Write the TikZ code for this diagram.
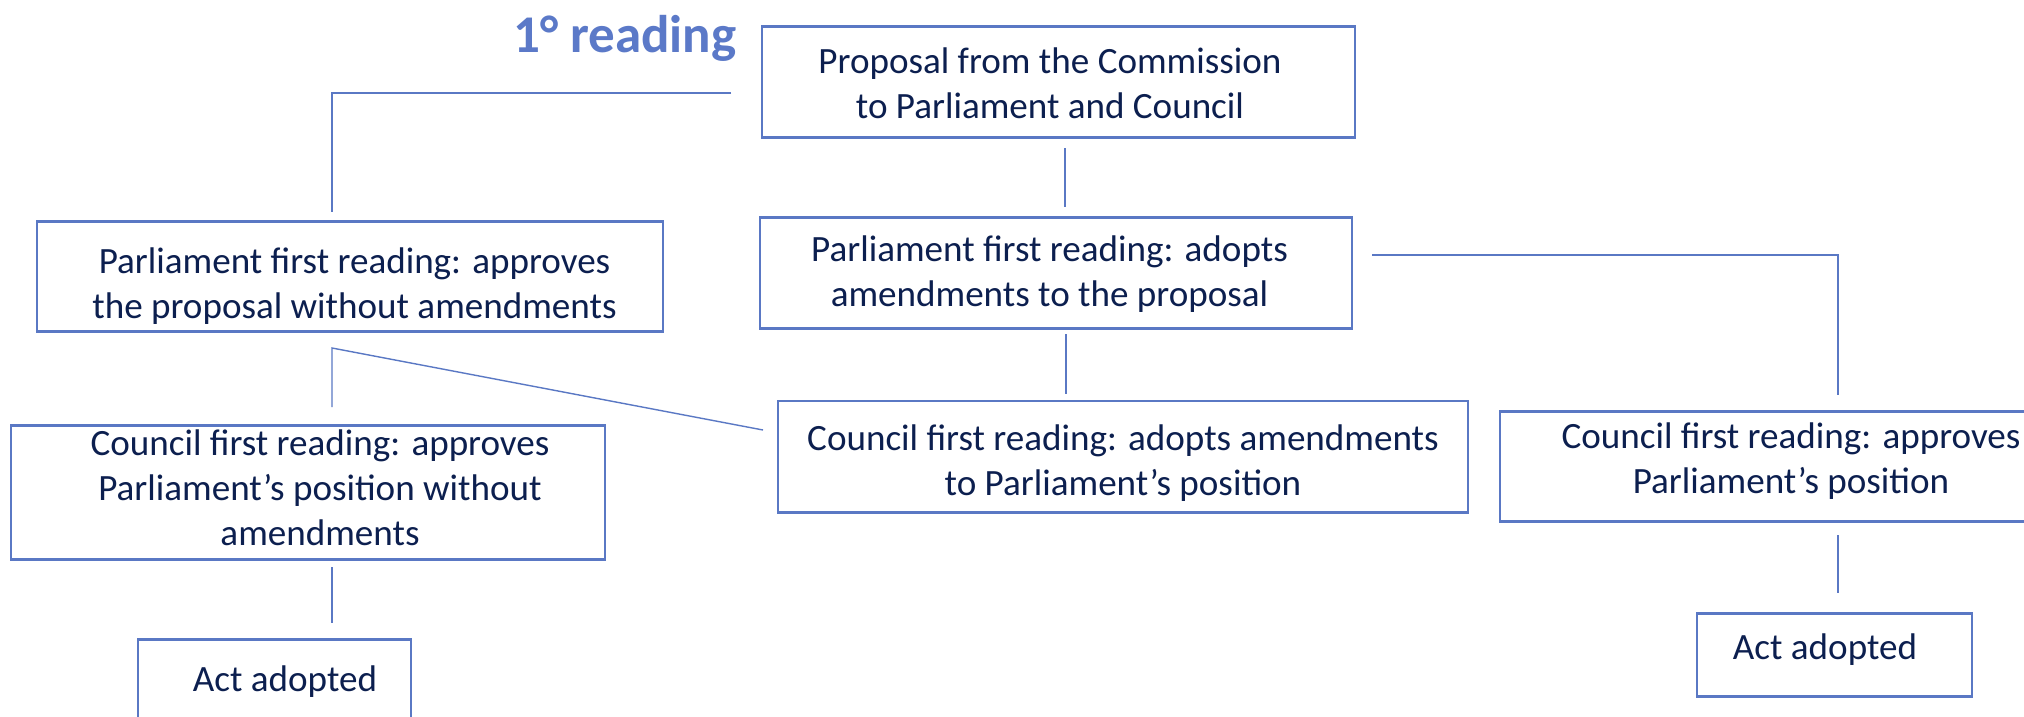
\documentclass[tikz,border=0pt]{standalone}
\usepackage{fontspec}
\setmainfont{Carlito}
\definecolor{boxblue}{HTML}{5A78C4}
\definecolor{titleblue}{HTML}{5B79C8}
\definecolor{navy}{HTML}{0C1F4F}
\newcommand{\steptext}[1]{\begin{tabular}[t]{@{}c@{}}#1\end{tabular}}
\tikzset{
  stepbox/.style={draw=boxblue, line width=2.6pt, rectangle, inner sep=0pt,
    anchor=north, text=navy, font=\fontsize{37.1}{45}\selectfont},
  link/.style={draw=boxblue, line width=1.4pt}
}
\begin{document}
\begin{tikzpicture}[x=1pt,y=-1pt]
\clip (0,0) rectangle (2024,716);
\fill[white] (0,0) rectangle (2024,716);
% title
\node[anchor=base west, inner sep=0pt, text=titleblue, font=\fontsize{53}{60}\selectfont\bfseries] (title) at (513,52) {1° reading};
% boxes (anchor north at top centre; text height = first baseline - top, text depth = bottom - first baseline)
\node[stepbox, minimum width=593pt, text height=47pt, text depth=64pt] (A) at (1058.5,25)
  {\steptext{Proposal from the Commission\\to Parliament and Council}\hspace*{17pt}};
\node[stepbox, minimum width=592pt, text height=44pt, text depth=67pt] (B) at (1056,216)
  {\steptext{Parliament first reading: adopts\\amendments to the proposal}\hspace*{13pt}};
\node[stepbox, minimum width=626pt, text height=52pt, text depth=58pt] (L) at (350,220)
  {\hspace*{9pt}\steptext{Parliament first reading: approves\\the proposal without amendments}};
\node[stepbox, minimum width=690pt, text height=49.5pt, text depth=62pt] (C) at (1123,399.5)
  {\steptext{Council first reading: adopts amendments\\to Parliament’s position}};
\node[stepbox, minimum width=594pt, text height=30pt, text depth=104pt] (D) at (308,424)
  {\hspace*{24pt}\steptext{Council first reading: approves\\Parliament’s position without\\amendments}};
\node[stepbox, minimum width=273pt, text height=52pt, text depth=31pt] (E) at (274.5,638)
  {\hspace*{21pt}\steptext{Act adopted}};
\node[stepbox, minimum width=582pt, text height=37pt, text depth=73pt] (F) at (1791,410)
  {\steptext{Council first reading: approves\\Parliament’s position}};
\node[stepbox, minimum width=275pt, text height=46pt, text depth=37pt] (G) at (1834.5,612)
  {\steptext{Act adopted}\hspace*{19pt}};
% connector end points
\coordinate (t1) at (731,93);
\coordinate (t2) at (332,93);
\coordinate (t3) at (332,212);
\coordinate (a1) at (1065,148);
\coordinate (a2) at (1065,207);
\coordinate (b1) at (1066,334);
\coordinate (b2) at (1066,394);
\coordinate (r1) at (1372,255);
\coordinate (r2) at (1838,255);
\coordinate (r3) at (1838,395);
\coordinate (l1) at (332,348);
\coordinate (l2) at (332,407);
\coordinate (l3) at (763,430);
\coordinate (d1) at (332,567);
\coordinate (d2) at (332,623);
\coordinate (f1) at (1838,535);
\coordinate (f2) at (1838,593);
% connectors
\draw[link] (t1) -- (t2) -- (t3);
\draw[link] (a1) -- (a2);
\draw[link] (b1) -- (b2);
\draw[link] (r1) -- (r2) -- (r3);
\draw[link] (l2) -- (l1) -- (l3);
\draw[link] (d1) -- (d2);
\draw[link] (f1) -- (f2);
\end{tikzpicture}
\end{document}
